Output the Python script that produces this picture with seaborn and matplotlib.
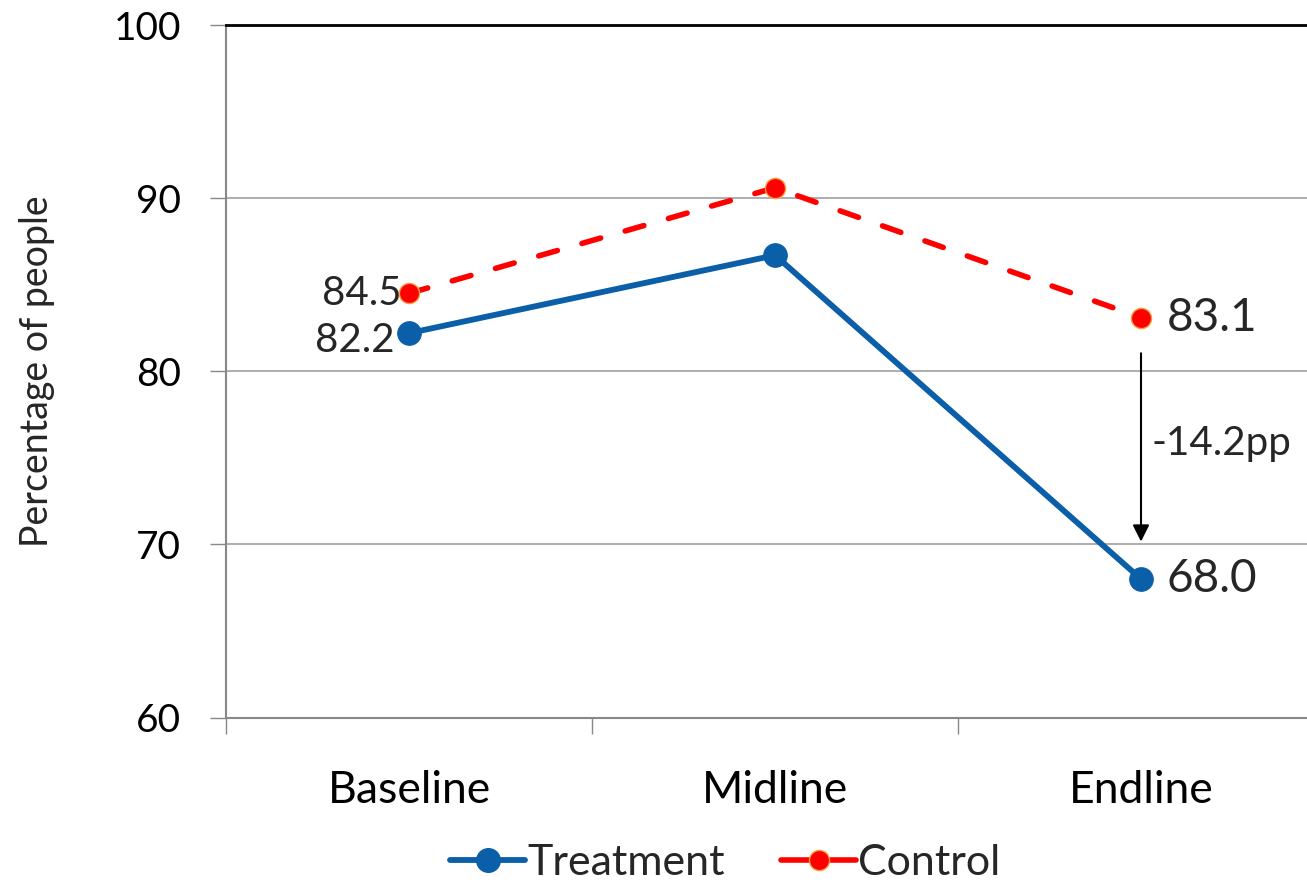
import matplotlib
matplotlib.use("Agg")
import matplotlib.pyplot as plt
import seaborn as sns
import pandas as pd
from matplotlib.lines import Line2D

rounds = ["Baseline", "Midline", "Endline"]
treatment = [82.2, 86.7, 68.0]
control = [84.5, 90.6, 83.1]
gap_label = "-14.2pp"

sns.set_theme(style="white")
plt.rcParams["font.family"] = ["Lato", "DejaVu Sans"]

blue = "#0B5EA8"
red = "#FF0000"
edge_orange = "#F5A040"

df = pd.DataFrame({
    "pos": list(range(len(rounds))) * 2,
    "value": treatment + control,
    "group": ["Treatment"] * len(rounds) + ["Control"] * len(rounds),
})

fig = plt.figure(figsize=(13.07, 8.82), dpi=100)
ax = fig.add_axes([226 / 1307, 1 - 717.5 / 882, (1324 - 226) / 1307, (717.5 - 25) / 882])

sns.lineplot(data=df[df.group == "Treatment"], x="pos", y="value", ax=ax,
             color=blue, linewidth=4.2, marker="o", markersize=17,
             markeredgecolor=blue, legend=False, zorder=3)
sns.lineplot(data=df[df.group == "Control"], x="pos", y="value", ax=ax,
             color=red, linewidth=4, marker="o", markersize=14.5,
             markeredgecolor=edge_orange, markeredgewidth=1, legend=False, zorder=4)
ctrl_line = ax.lines[-1]
ctrl_line.set_dashes([3.5, 4.6])
ctrl_line.set_dash_capstyle("round")

ax.set_xlim(-0.5, 2.5)
ax.set_ylim(60, 100)
ax.set_yticks([60, 70, 80, 90, 100])
ax.set_xticks(range(len(rounds)))
ax.set_xticklabels(rounds)
ax.set_xticks([-0.5, 0.5, 1.5, 2.5], minor=True)
ax.tick_params(axis="x", which="major", length=0, labelsize=32, pad=38, colors="black")
ax.tick_params(axis="x", which="minor", length=11.5, width=1, color="#888888", direction="out", bottom=True)
ax.tick_params(axis="y", length=11.5, width=1, color="#888888", direction="out", left=True,
               labelsize=28, pad=21, labelcolor="black")
ax.set_xlabel("")
ax.set_ylabel("Percentage of people", fontsize=27, labelpad=42)
ax.yaxis.grid(True, color="#A0A0A0", linewidth=1.2)
ax.set_axisbelow(True)

for side in ["left", "bottom"]:
    ax.spines[side].set_color("#888888")
    ax.spines[side].set_linewidth(1.5)
ax.spines["top"].set_color("black")
ax.spines["top"].set_linewidth(2)
ax.spines["right"].set_visible(False)

# value labels
ax.text(-0.02, control[0], f"{control[0]:.1f}", ha="right", va="center", fontsize=29)
ax.text(-0.04, treatment[0] - 0.45, f"{treatment[0]:.1f}", ha="right", va="center", fontsize=29)
ax.text(2.07, control[2] - 0.05, f"{control[2]:.1f}", ha="left", va="center", fontsize=33)
ax.text(2.07, treatment[2], f"{treatment[2]:.1f}", ha="left", va="center", fontsize=33)

# gap arrow between the two groups at endline
ax.annotate("", xy=(2, treatment[2] + 2.0), xytext=(2, control[2] - 1.9),
            arrowprops=dict(arrowstyle="-|>", color="black", lw=1.5, mutation_scale=25))
ax.text(2.03, (control[2] + treatment[2]) / 2 + 0.3, gap_label, ha="left", va="center", fontsize=29)

handles = [
    Line2D([], [], color=blue, linewidth=4.2, marker="o", markersize=17, markeredgecolor=blue),
    Line2D([], [], color=red, linewidth=4, marker="o", markersize=14.5,
           markeredgecolor=edge_orange, solid_capstyle="round"),
]
fig.legend(handles, ["Treatment", "Control"], loc="lower center", ncol=2,
           bbox_to_anchor=(0.555, -0.044), frameon=False, fontsize=31,
           handlelength=1.75, handletextpad=0.05, columnspacing=1.3)

fig.savefig("out.png", dpi=100)
